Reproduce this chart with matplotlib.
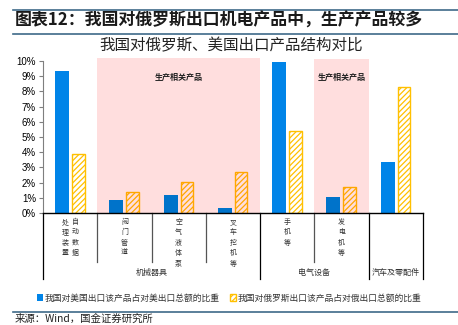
import matplotlib
matplotlib.use('Agg')
import matplotlib.pyplot as plt
from matplotlib.patches import Patch
import numpy as np

plt.rcParams['font.family'] = ['Noto Sans CJK SC', 'DejaVu Sans']
plt.rcParams['hatch.linewidth'] = 0.9

# data
categories = ['自动数据\n处理装置', '阀门管道', '空气液体泵', '叉车挖机等', '手机等', '发电机等', '汽车及零配件']
groups = ['机械器具', '电气设备', '汽车及零配件']
group_spans = [(0, 3), (4, 5), (6, 6)]
us_share = [9.35, 0.85, 1.2, 0.3, 9.95, 1.07, 3.38]
ru_share = [3.88, 1.4, 2.05, 2.7, 5.4, 1.69, 8.29]
shaded = [(1, 3), (5, 5)]
shade_label = '生产相关产品'
yticks = [0, 1, 2, 3, 4, 5, 6, 7, 8, 9, 10]

BLUE = '#0084E8'
GOLD = '#FFC000'
PINK = '#FFDEDE'


def multiply(c1, c2):
    a = np.array(matplotlib.colors.to_rgb(c1))
    b = np.array(matplotlib.colors.to_rgb(c2))
    return tuple(a * b)


def in_shade(i):
    return any(lo <= i <= hi for lo, hi in shaded)


fig = plt.figure(figsize=(4.58, 3.25), dpi=100)
ax = fig.add_axes([43 / 458, 112 / 325, 380 / 458, 152 / 325])

x = np.arange(len(categories))

# shaded regions
for k, (lo, hi) in enumerate(shaded):
    top = 10.2 if k == 0 else 10.1
    ax.bar((lo + hi) / 2, top, width=hi - lo + 1, color=PINK, linewidth=0, zorder=0, clip_on=False)
    ax.text((lo + hi) / 2, 8.95, shade_label, ha='center', va='center', fontsize=5.8,
            fontweight='bold', color='#222222')

for i in range(len(categories)):
    sh = in_shade(i)
    bc = multiply(BLUE, PINK) if sh else BLUE
    yc = multiply(GOLD, PINK) if sh else GOLD
    fc = PINK if sh else 'white'
    ax.bar(x[i] - 0.15, us_share[i], width=0.26, color=bc, linewidth=0, zorder=2)
    ax.bar(x[i] + 0.15, ru_share[i], width=0.23, facecolor=fc, edgecolor=yc,
           hatch='//////', linewidth=1.0, zorder=2)

ax.set_xlim(-0.5, len(categories) - 0.5)
ax.set_ylim(0, 10)
ax.set_yticks(yticks)
ax.set_yticklabels([f'{t}%' for t in yticks], fontsize=7, family='Liberation Sans')
ax.set_xticks([])
for s in ['top', 'right']:
    ax.spines[s].set_visible(False)
ax.spines['left'].set_color('#7f7f7f')
ax.spines['left'].set_linewidth(0.8)
ax.spines['bottom'].set_color('black')
ax.spines['bottom'].set_linewidth(1.0)
ax.spines['bottom'].set_zorder(3)
ax.tick_params(axis='y', length=3, width=0.8, color='#7f7f7f', pad=2)

# separators below axis
tr = ax.get_xaxis_transform()
long_y = -(279 - 213) / 152
short_y = -(262 - 213) / 152
group_edges = set()
for lo, hi in group_spans:
    group_edges.add(lo - 0.5)
    group_edges.add(hi + 0.5)
for b in np.arange(-0.5, len(categories), 1.0):
    ylow = long_y if b in group_edges else short_y
    color = 'black' if b in group_edges else '#555555'
    ax.plot([b, b], [0, ylow], transform=tr, color=color, lw=0.9, clip_on=False)

# category labels (vertical)
lab_top = -(218 - 213) / 152
for i, lab in enumerate(categories):
    if i in [cg[0] for cg in group_spans if cg[0] == cg[1]]:
        continue
    cols = lab.split('\n')
    offs = [0.0] if len(cols) == 1 else [0.09, -0.09]
    for off, col in zip(offs, cols):
        ax.text(x[i] + off, lab_top, '\n'.join(col), transform=tr, ha='center', va='top',
                fontsize=5, linespacing=1.4, color='#333333')

grp_y = -(272 - 213) / 152
for name, (lo, hi) in zip(groups, group_spans):
    ax.text((lo + hi) / 2, grp_y, name, transform=tr, ha='center', va='center',
            fontsize=5.8, color='#333333')

# legend
handles = [Patch(facecolor=BLUE, edgecolor=BLUE, lw=0),
           Patch(facecolor='white', edgecolor=GOLD, hatch='//////', lw=1.0)]
fig.legend(handles, ['我国对美国出口该产品占对美出口总额的比重', '我国对俄罗斯出口该产品占对俄出口总额的比重'],
           loc='center', bbox_to_anchor=(0.5, 1 - 298 / 325), ncol=2, frameon=False,
           fontsize=6.3, handlelength=0.7, handleheight=0.7, handletextpad=0.2,
           columnspacing=1.2, labelcolor='#333333')

# header
LINE = '#3E6A89'
fig.add_artist(plt.Line2D([13 / 458, 1], [1 - 10 / 325] * 2, color=LINE, lw=1.2))
fig.add_artist(plt.Line2D([13 / 458, 1], [1 - 34 / 325] * 2, color=LINE, lw=1.2))
fig.add_artist(plt.Line2D([13 / 458, 1], [1 - 312 / 325] * 2, color=LINE, lw=1.2))
fig.text(15 / 458, 1 - 21 / 325, '图表12：我国对俄罗斯出口机电产品中，生产产品较多', fontsize=12.2,
         fontweight='bold', fontstyle='italic', ha='left', va='center', color='#1a1a1a')
fig.text(231 / 458, 1 - 46 / 325, '我国对俄罗斯、美国出口产品结构对比', fontsize=11.2,
         ha='center', va='center', color='#222222')
fig.text(15 / 458, 1 / 325, '来源：Wind，国金证券研究所', fontsize=7.5, ha='left', va='bottom',
         color='#222222')

fig.savefig('out.png', dpi=100)
